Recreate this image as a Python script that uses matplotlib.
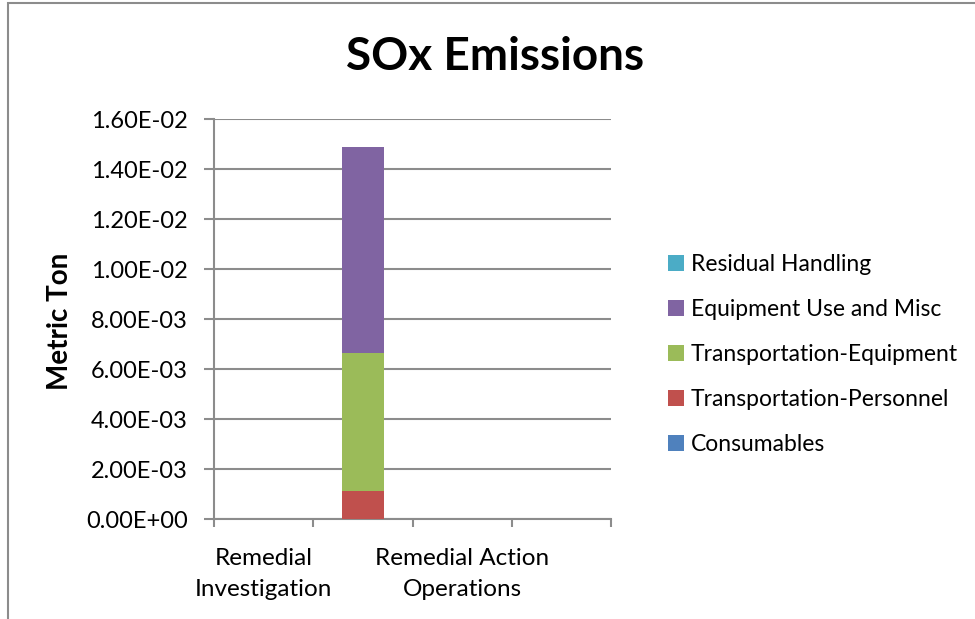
import matplotlib
matplotlib.use("Agg")
import matplotlib.pyplot as plt
from matplotlib.patches import Rectangle
import numpy as np

plt.rcParams["font.family"] = ["Lato", "DejaVu Sans"]

categories = [
    "Remedial Investigation",
    "Remedial Action Construction",
    "Remedial Action Operations",
    "Long-Term Monitoring",
]
shown_labels = ["Remedial\nInvestigation", "", "Remedial Action\nOperations", ""]

series_names = [
    "Consumables",
    "Transportation-Personnel",
    "Transportation-Equipment",
    "Equipment Use and Misc",
    "Residual Handling",
]
series_colors = ["#4F81BD", "#C0504D", "#9BBB59", "#8064A2", "#4BACC6"]

consumables = [0.0, 0.0, 0.0, 0.0]
transport_personnel = [0.0, 1.12e-3, 0.0, 0.0]
transport_equipment = [0.0, 5.52e-3, 0.0, 0.0]
equipment_use = [0.0, 8.24e-3, 0.0, 0.0]
residual_handling = [0.0, 0.0, 0.0, 0.0]

series_values = [
    consumables,
    transport_personnel,
    transport_equipment,
    equipment_use,
    residual_handling,
]

y_ticks = np.arange(0, 0.0161, 0.002)

fig = plt.figure(figsize=(9.75, 6.19), dpi=100)
ax = fig.add_axes([214 / 975, 100 / 619, 397 / 975, 400 / 619])

x = np.arange(len(categories))
bottom = np.zeros(len(categories))
handles = []
for name, color, vals in zip(series_names, series_colors, series_values):
    b = ax.bar(x, vals, width=0.42, bottom=bottom, color=color, label=name, zorder=3)
    handles.append(b)
    bottom += np.array(vals)

ax.set_xlim(-0.5, len(categories) - 0.5)
ax.set_ylim(0, 0.016)
ax.set_yticks(y_ticks)
ax.set_yticklabels([f"{v:.2E}" for v in y_ticks], fontsize=17)
ax.yaxis.grid(True, color="#8c8c8c", linewidth=1.5, zorder=0)

ax.set_xticks(x)
ax.set_xticklabels(shown_labels, fontsize=17.5)
for lab in ax.get_xticklabels():
    lab.set_linespacing(1.6)
ax.set_xticks(np.arange(-0.5, len(categories), 1.0), minor=True)
ax.tick_params(axis="x", which="major", length=0, pad=21)
ax.tick_params(axis="x", which="minor", length=6, width=1.5, color="#8c8c8c")
ax.tick_params(axis="y", length=7, width=1.5, color="#8c8c8c", pad=12)

for side in ["top", "right"]:
    ax.spines[side].set_visible(False)
for side in ["left", "bottom"]:
    ax.spines[side].set_color("#8c8c8c")
    ax.spines[side].set_linewidth(1.5)

fig.text(60 / 975, 1 - 321 / 619, "Metric Ton", fontsize=20, fontweight="bold",
         rotation=90, ha="center", va="center")
fig.text(495 / 975, 1 - 57 / 619, "SOx Emissions", fontsize=33, fontweight="bold",
         ha="center", va="center")

fig.legend(
    handles[::-1],
    series_names[::-1],
    loc="upper left",
    bbox_to_anchor=(647 / 975, 1 - 233 / 619),
    frameon=False,
    fontsize=16.5,
    handlelength=0.7,
    handleheight=0.7,
    handletextpad=0.3,
    labelspacing=1.05,
)

# chart-area border (only top and left edges fall inside the picture)
fig.patches.append(Rectangle((8 / 975, -0.1), 2, 1.1 - 3.5 / 619, transform=fig.transFigure,
                             fill=False, edgecolor="#8c8c8c", linewidth=1.5))

fig.savefig("out.png", dpi=100)
